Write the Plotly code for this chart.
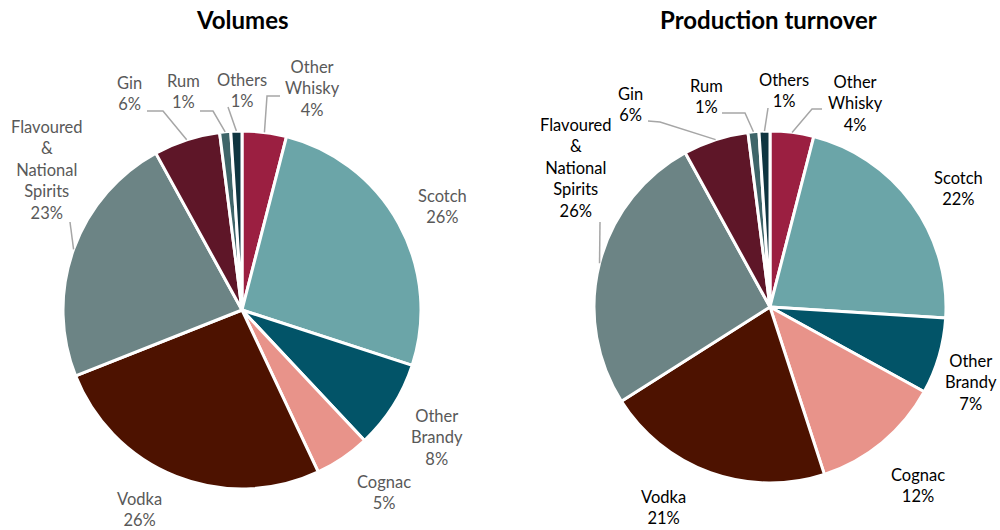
import math
import plotly.graph_objects as go

# Categories, clockwise from 12 o'clock
categories = ["Other Whisky", "Scotch", "Other Brandy", "Cognac", "Vodka",
              "Flavoured & National Spirits", "Gin", "Rum", "Others"]
label_text = ["Other<br>Whisky", "Scotch", "Other<br>Brandy", "Cognac", "Vodka",
              "Flavoured<br>&<br>National<br>Spirits", "Gin", "Rum", "Others"]

volumes = [4, 26, 8, 5, 26, 23, 6, 1, 1]
turnover = [4, 22, 7, 12, 21, 26, 6, 1, 1]

colors = ["#9B1F41", "#6BA5A8", "#025468", "#E8938A", "#4D1200",
          "#6C8485", "#5E1628", "#3E6569", "#0F3540"]

W, H = 1000, 530
FONT = "Lato"

# Pie geometry in pixels: centre x, centre y, radius
pies = [
    dict(title="Volumes", values=volumes, cx=242, cy=310, r=179, tx=242,
         text_color="#595959",
         # label centres (px)
         labels=[(312, 89), (442, 206), (437, 437), (384, 492), (139, 509),
                 (47, 170), (129, 94), (183, 92), (242, 91)],
         # leader-line waypoints after the slice edge (px)
         leaders={0: [(267, 96), (280, 96)], 5: [(70, 222)],
                  6: [(163, 111), (147, 111)], 7: [(213, 111), (200, 111)],
                  8: [(228, 107)]}),
    dict(title="Production turnover", values=turnover, cx=770, cy=307, r=176, tx=768,
         text_color="#000000",
         labels=[(855, 104), (958, 188), (971, 382), (918, 485), (663, 507),
                 (576, 168), (630, 105), (706, 97), (784, 91)],
         leaders={0: [(812, 109), (822, 109)], 5: [(600, 222)],
                  6: [(660, 122), (648, 121)], 7: [(745, 113), (722, 113)],
                  8: [(768, 108)]}),
]


def px(x, y):
    return x / W, (H - y) / H


fig = go.Figure()
annotations = []
shapes = []

for p in pies:
    cx, cy, r = p["cx"], p["cy"], p["r"]
    fig.add_trace(go.Pie(
        labels=categories, values=p["values"], sort=False, direction="clockwise",
        rotation=0, textinfo="none", hoverinfo="label+percent",
        marker=dict(colors=colors, line=dict(color="white", width=3)),
        domain=dict(x=[(cx - r) / W, (cx + r) / W],
                    y=[(H - cy - r) / H, (H - cy + r) / H]),
        showlegend=False,
    ))

    total = sum(p["values"])
    cum = 0
    for i, v in enumerate(p["values"]):
        pct = round(100 * v / total)
        lx, ly = p["labels"][i]
        x, y = px(lx, ly)
        annotations.append(dict(
            x=x, y=y, xref="paper", yref="paper", showarrow=False,
            text=f"{label_text[i]}<br>{pct}%", align="center",
            xanchor="center", yanchor="middle",
            font=dict(family=FONT, size=16.5, color=p["text_color"]),
        ))
        mid = 2 * math.pi * (cum + v / 2) / total
        cum += v
        if i in p["leaders"]:
            ex = cx + r * math.sin(mid)
            ey = cy - r * math.cos(mid)
            pts = [(ex, ey)] + p["leaders"][i]
            path = "M " + " L ".join(f"{px(a, b)[0]:.5f},{px(a, b)[1]:.5f}" for a, b in pts)
            shapes.append(dict(type="path", path=path, xref="paper", yref="paper",
                               line=dict(color="#A6A6A6", width=1.5)))

    tx, ty = px(p["tx"], 20)
    annotations.append(dict(
        x=tx, y=ty, xref="paper", yref="paper", showarrow=False,
        text=f"<b>{p['title']}</b>", xanchor="center", yanchor="middle",
        font=dict(family=FONT, size=24, color="#000000"),
    ))

fig.update_layout(
    width=W, height=H, margin=dict(l=0, r=0, t=0, b=0),
    paper_bgcolor="white", plot_bgcolor="white",
    annotations=annotations, shapes=shapes,
)

fig.write_html("out.html")
